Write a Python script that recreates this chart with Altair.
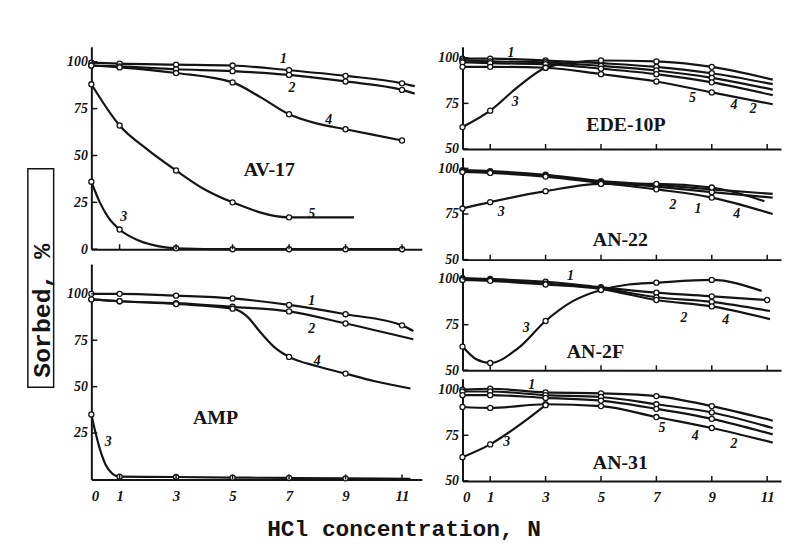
import altair as alt
import pandas as pd

X_TICKS = [0, 1, 3, 5, 7, 9, 11]
INNER_X_TICKS = [1, 3, 5, 7, 9, 11]
MARK_X = [0, 1, 3, 5, 7, 9, 11]

Y_TITLE = "Sorbed, %"
X_TITLE = "HCl concentration, N"

# ---- AV-17 (left top) ----
AV17 = {
    "1": ([0, 1, 3, 5, 7, 9, 11, 11.45], [99.5, 99, 98.5, 98, 95.5, 92.5, 88.5, 87]),
    "2": ([0, 1, 3, 5, 7, 9, 11, 11.45], [98, 97.5, 96, 95, 93, 89.5, 85, 83]),
    "4": ([0, 1, 3, 5, 6, 7, 8, 9, 11], [98, 97, 94, 89, 81, 72, 67, 64, 58]),
    "5": ([0, 1, 2, 3, 4, 5, 7, 9.3], [88, 66, 53, 42, 32, 25, 17, 17]),
    "3": ([0, 0.3, 0.6, 1, 1.7, 2.4, 3, 5, 7, 9, 11], [36, 25, 17, 10.5, 4.5, 1.5, 0.5, 0, 0, 0, 0]),
}
AV17_LABELS = [("1", 6.8, 101.5), ("2", 7.1, 86), ("4", 8.4, 69), ("5", 7.8, 19), ("3", 1.15, 17)]

# ---- AMP (left bottom) ----
AMP = {
    "1": ([0, 1, 3, 5, 7, 9, 11, 11.4], [100, 100, 99, 97.5, 94, 89, 83, 80]),
    "2": ([0, 1, 3, 5, 7, 9, 11.4], [97, 96, 95, 93, 90.5, 84, 75.5]),
    "4": ([0, 1, 3, 5, 5.5, 6, 6.5, 7, 8, 9, 10, 11.3], [97, 96, 94.5, 92, 88, 79, 71, 66, 61, 57, 53, 49]),
    "3": ([0, 0.15, 0.35, 0.5, 0.75, 1, 3, 5, 7, 9, 11.3], [35, 25, 14, 8, 3, 1.5, 1.3, 1, 0.8, 0.6, 0.3]),
}
AMP_LABELS = [("1", 7.8, 96), ("2", 7.8, 81), ("4", 8.0, 64), ("3", 0.6, 20)]

# ---- EDE-10P ----
EDE = {
    "1": ([0, 1, 3, 5, 7, 9, 11.2], [99.5, 99.5, 98.5, 97, 95, 91.5, 85.5]),
    "4": ([0, 1, 3, 5, 7, 9, 11.2], [98.5, 98, 97.5, 95.5, 93, 89, 82.5]),
    "2": ([0, 1, 3, 5, 7, 9, 11.2], [97.5, 97, 96.5, 94, 91, 86.5, 79.5]),
    "5": ([0, 1, 3, 5, 7, 9, 11.2], [95, 95, 94.5, 91, 87, 81, 74.5]),
    "3": ([0, 1, 2, 3, 4, 5, 7, 9, 11.2], [62, 71, 84, 94.5, 97.5, 98.5, 98, 95, 88]),
}
EDE_LABELS = [("1", 1.75, 102.5), ("3", 1.9, 76), ("5", 8.3, 78), ("4", 9.8, 74), ("2", 10.5, 72)]

# ---- AN-22 ----
AN22 = {
    "1": ([0, 1, 3, 5, 7, 9, 11.2], [99, 98.5, 96.5, 93, 91, 88.5, 86]),
    "2": ([0, 1, 3, 5, 7, 9, 11.2], [98.5, 98, 96, 92.5, 90, 87, 84]),
    "4": ([0, 1, 3, 5, 7, 9, 11.2], [98, 97.5, 95.5, 92, 88.5, 84, 75]),
    "3": ([0, 1, 3, 5, 7, 9, 10.9], [78, 81.5, 87.5, 91.5, 91.5, 89.5, 82]),
}
AN22_LABELS = [("3", 1.4, 76), ("2", 7.6, 80), ("1", 8.5, 77.5), ("4", 9.9, 75)]

# ---- AN-2F ----
AN2F = {
    "1": ([0, 1, 3, 5, 7, 9, 11], [100.5, 100, 98.5, 95.5, 92.5, 90.5, 88.5]),
    "2": ([0, 1, 3, 5, 7, 9, 11.1], [100, 99.5, 97.5, 95, 90, 87.5, 82.5]),
    "4": ([0, 1, 3, 5, 7, 9, 11.1], [99.5, 99, 97, 94.5, 88.5, 85, 78]),
    "3": ([0, 0.5, 1, 2, 3, 4, 5, 6, 7, 9, 10.8], [63, 56, 54, 62, 77, 88, 94, 97, 98, 99.5, 93.5]),
}
AN2F_LABELS = [("1", 3.9, 101.5), ("3", 2.3, 73), ("2", 8.0, 78.5), ("4", 9.5, 77.5)]

# ---- AN-31 ----
AN31 = {
    "1": ([0, 1, 3, 5, 7, 9, 11.2], [100, 100.5, 98.5, 98, 96.5, 91, 83]),
    "4": ([0, 1, 3, 5, 7, 9, 11.2], [99, 99, 97, 96, 92, 87.5, 79]),
    "2": ([0, 1, 3, 5, 7, 9, 11.2], [97, 97, 95.5, 94, 89.5, 84, 75.5]),
    "5": ([0, 1, 3, 5, 7, 9, 11.2], [90.5, 90, 92, 91, 85, 79, 71]),
    "3": ([0, 1, 2, 3], [63, 70, 80, 91.5]),
}
AN31_LABELS = [("1", 2.5, 102.5), ("3", 1.6, 71.5), ("5", 7.2, 79), ("4", 8.4, 74.5), ("2", 9.8, 70)]

INK = "#141414"
NUM_FONT = "Liberation Serif"
MONO = "Liberation Mono"


def panel(curves, labels, name, name_xy, ydom, yvals, width, height, xmax, show_x_labels):
    rows = []
    for cid, (xs, ys) in curves.items():
        for x, y in zip(xs, ys):
            rows.append({"curve": cid, "x": x, "y": y, "mark": x in MARK_X})
    df = pd.DataFrame(rows)
    xs = alt.Scale(domain=[0, xmax], nice=False, zero=False)
    ys = alt.Scale(domain=ydom, nice=False, zero=False)
    xaxis = alt.Axis(values=X_TICKS, labels=show_x_labels, ticks=False, grid=False, title=None,
                     domainColor=INK, domainWidth=2, labelFont=NUM_FONT, labelFontStyle="italic",
                     labelFontWeight="bold", labelFontSize=15, labelColor=INK, labelPadding=9)
    yaxis = alt.Axis(values=yvals, ticks=False, grid=False, title=None, domainColor=INK, domainWidth=2,
                     labelFont=NUM_FONT, labelFontStyle="italic", labelFontWeight="bold",
                     labelFontSize=14, labelColor=INK, labelPadding=4)
    X = alt.X("x:Q", scale=xs, axis=xaxis)
    Y = alt.Y("y:Q", scale=ys, axis=yaxis)
    base = alt.Chart(df)
    lines = base.mark_line(interpolate="monotone", color=INK, strokeWidth=2.2).encode(
        x=X, y=Y, detail="curve:N")
    pts = base.transform_filter("datum.mark").mark_point(
        shape="circle", filled=True, fill="white", stroke=INK, strokeWidth=1.3, size=26, opacity=1
    ).encode(x=X, y=Y)
    xt = alt.Chart(pd.DataFrame({"x": INNER_X_TICKS})).mark_rule(color=INK, strokeWidth=1.5).encode(
        x=X, y=alt.value(height), y2=alt.value(height - 5))
    yt = alt.Chart(pd.DataFrame({"y": yvals})).mark_rule(color=INK, strokeWidth=1.5).encode(
        y=Y, x=alt.value(0), x2=alt.value(6))
    lab_df = pd.DataFrame(labels, columns=["t", "x", "y"])
    labs = alt.Chart(lab_df).mark_text(font=NUM_FONT, fontStyle="italic", fontWeight="bold",
                                       fontSize=14, color=INK).encode(x=X, y=Y, text="t:N")
    name_df = pd.DataFrame({"t": [name], "x": [name_xy[0]], "y": [name_xy[1]]})
    nm = alt.Chart(name_df).mark_text(font=NUM_FONT, fontWeight="bold", fontSize=20, color=INK).encode(
        x=X, y=Y, text="t:N")
    return alt.layer(lines, pts, xt, yt, labs, nm).properties(width=width, height=height)


LW, RW = 333, 321
RH, RDOM = 103, [50, 106]
TOTAL_H = 436
av17 = panel(AV17, AV17_LABELS, "AV-17", (6.3, 42), [0, 108], [0, 25, 50, 75, 100], LW, 204, 11.7, False)
amp = panel(AMP, AMP_LABELS, "AMP", (4.4, 33), [0, 116], [25, 50, 75, 100], LW, 217, 11.7, True)
ede = panel(EDE, EDE_LABELS, "EDE-10P", (5.9, 63), RDOM, [50, 75, 100], RW, RH, 11.5, False)
an22 = panel(AN22, AN22_LABELS, "AN-22", (5.7, 61), RDOM, [50, 75, 100], RW, RH, 11.5, False)
an2f = panel(AN2F, AN2F_LABELS, "AN-2F", (4.8, 60), RDOM, [50, 75, 100], RW, RH, 11.5, False)
an31 = panel(AN31, AN31_LABELS, "AN-31", (5.7, 60), RDOM, [50, 75, 100], RW, RH, 11.5, True)

# boxed, rotated y-axis title
tdf = pd.DataFrame({"t": [Y_TITLE]})
tbox = alt.Chart(tdf).mark_rect(fill="transparent", stroke=INK, strokeWidth=1.5).encode(
    x=alt.value(0), x2=alt.value(26), y=alt.value(123), y2=alt.value(343))
ttext = alt.Chart(tdf).mark_text(angle=270, font=MONO, fontSize=25, fontWeight="bold", color=INK,
                                 baseline="middle", align="center").encode(
    x=alt.value(14), y=alt.value(266), text="t:N")
ytitle = alt.layer(tbox, ttext).properties(width=26, height=TOTAL_H)

left = alt.vconcat(av17, amp, spacing=15, bounds="flush")
right = alt.vconcat(ede, an22, an2f, an31, spacing=8.5, bounds="flush")
leftgroup = alt.hconcat(ytitle, left, spacing=12)

chart = alt.hconcat(leftgroup, right, spacing=16).properties(
    title=alt.TitleParams(X_TITLE, orient="bottom", anchor="middle", font=MONO,
                          fontSize=23, fontWeight="bold", color=INK, offset=14),
    padding={"left": 19, "top": 36, "right": 4, "bottom": 2},
    background="white",
).configure_view(stroke="transparent", strokeWidth=0)

chart.save("out.html", embed_options={"renderer": "svg", "actions": False})
